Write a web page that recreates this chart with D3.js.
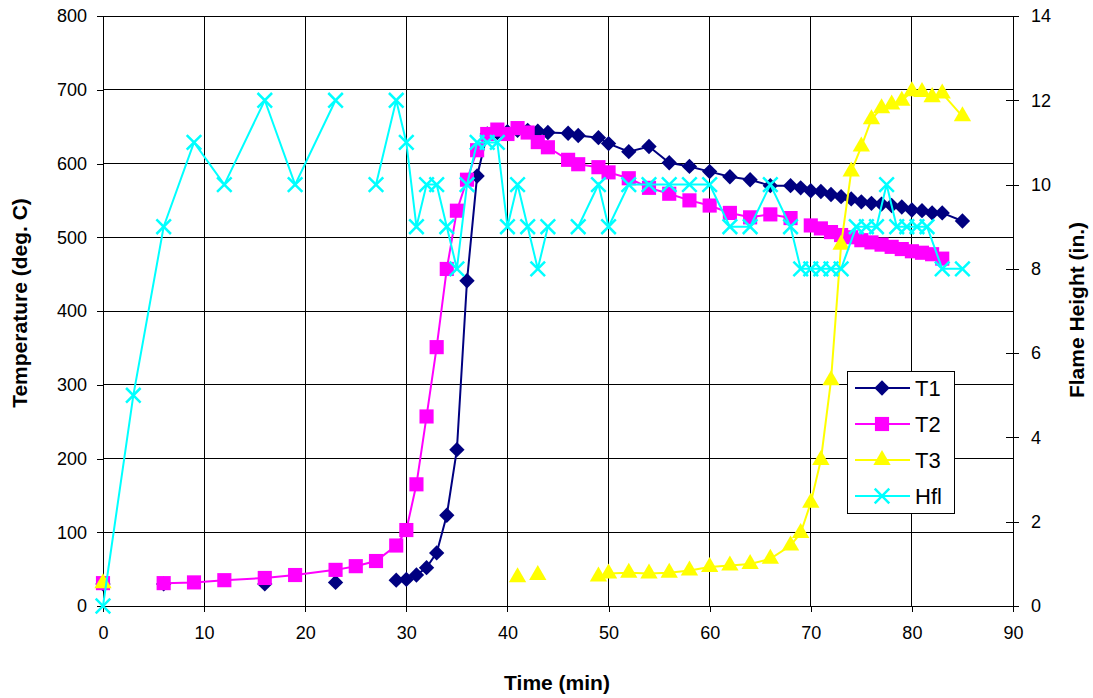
<!DOCTYPE html>
<html>
<head>
<meta charset="utf-8">
<script src="https://cdn.jsdelivr.net/npm/d3@7"></script>
<style>
  body { margin: 0; background: #fff; }
  text { font-family: "Liberation Sans", Arial, sans-serif; }
</style>
</head>
<body>
<script>
// chart size, same as the window
var width = 1093,
	height = 698;

// time points for the thermocouples (min)
var time = [0, 3, 6, 9, 12, 16, 19, 23, 25, 27, 29, 30, 31, 32, 33, 34, 35, 36, 37, 38,
	39, 40, 41, 42, 43, 44, 46, 47, 49, 50, 52, 54, 56, 58, 60, 62, 64, 66, 68, 69,
	70, 71, 72, 73, 74, 75, 76, 77, 78, 79, 80, 81, 82, 83, 85];

// temperatures (deg. C), null where nothing was logged
var t1 = [30, null, 30, null, null, 30, null, 32, null, null, 35, 36, 42, 52, 72, 123, 212, 441, 583, 640,
	642, 643, 645, 645, 644, 642, 641, 638, 635, 627, 616, 623, 601, 596, 589, 582, 578, 570, 570, 567,
	563, 562, 558, 555, 552, 548, 546, 545, 543, 541, 537, 536, 533, 533, 522];

var t2 = [31, null, 31, 32, 35, 38, 42, 49, 54, 61, 82, 103, 165, 257, 351, 457, 536, 578, 618, 640,
	646, 640, 648, 642, 629, 622, 605, 599, 595, 588, 580, 567, 559, 550, 543, 533, 527, 531, 526, null,
	516, 512, 507, 503, 500, 496, 493, 490, 487, 484, 481, 479, 477, 471, null];

var t3 = [31, null, null, null, null, null, null, null, null, null, null, null, null, null, null, null, null, null, null, null,
	null, null, 39, null, 42, null, null, null, 40, 44, 45, 44, 45, 48, 53, 55, 57, 64, 82, 99,
	140, 198, 306, 490, 589, 623, 660, 675, 680, 685, 698, 697, 690, 695, 664];

// flame height has its own time points (min) and values (in.)
var hflTime = [0, 3, 6, 9, 12, 16, 19, 23, 25, 27, 29, 30, 31, 32, 33, 34, 35, 36, 37, 38,
	39, 40, 41, 42, 43, 44, 46, 47, 49, 50, 52, 54, 56, 58, 60, 62, 64, 66, 68, 69,
	70, 71, 72, 73, 74.5, 75.5, 76.5, 77.5, 78.5, 79.5, 80.5, 81.5, 83, 85];
var hfl = [0, 5, 9, 11, 10, 12, 10, 12, null, 10, 12, 11, 9, 10, 10, 9, 8, 10, 11, 11,
	11, 9, 10, 9, 8, 9, null, 9, 10, 9, 10, 10, 10, 10, 10, 9, 9, 10, 9, 8,
	8, 8, 8, 8, 9, 9, 9, 10, 9, 9, 9, 9, 8, 8];

// axis ticks
var xTicks = [0, 10, 20, 30, 40, 50, 60, 70, 80, 90];
var leftTicks = [0, 100, 200, 300, 400, 500, 600, 700, 800];
var rightTicks = [0, 2, 4, 6, 8, 10, 12, 14];

var seriesNames = ['T1', 'T2', 'T3', 'Hfl'];
var seriesColors = ['#000080', '#ff00ff', '#ffff00', '#00ffff'];

// plot box (window.top is taken, so prefix these)
var plotLeft = 103, plotRight = 1013, plotTop = 16, plotBottom = 606;

var x = d3.scaleLinear().domain([0, 90]).range([plotLeft, plotRight]);
var yL = d3.scaleLinear().domain([0, 800]).range([plotBottom, plotTop]);
var yR = d3.scaleLinear().domain([0, 14]).range([plotBottom, plotTop]);

var svg = d3.select('body')
	.append('svg')
	.attr('width', width)
	.attr('height', height);

// grid lines
var grid = svg.append('g').attr('shape-rendering', 'crispEdges');
grid.selectAll('.gx')
	.data(xTicks)
	.enter().append('line')
	.attr('x1', function(d) { return x(d); })
	.attr('x2', function(d) { return x(d); })
	.attr('y1', plotTop)
	.attr('y2', plotBottom)
	.attr('stroke', '#000');
grid.selectAll('.gy')
	.data(leftTicks)
	.enter().append('line')
	.attr('x1', plotLeft)
	.attr('x2', plotRight)
	.attr('y1', function(d) { return yL(d); })
	.attr('y2', function(d) { return yL(d); })
	.attr('stroke', '#000');

// axes
function styleAxis(g) {
	g.attr('shape-rendering', 'crispEdges');
	g.selectAll('path').attr('stroke', '#000');
	g.selectAll('line').attr('stroke', '#000');
	g.selectAll('text')
		.attr('font-size', 18)
		.attr('fill', '#000')
		.style('font-family', '"Liberation Sans", Arial, sans-serif');
}

svg.append('g')
	.attr('transform', 'translate(0,' + plotBottom + ')')
	.call(d3.axisBottom(x).tickValues(xTicks).tickSize(6).tickSizeOuter(0).tickPadding(14))
	.call(styleAxis);

svg.append('g')
	.attr('transform', 'translate(' + plotLeft + ',0)')
	.call(d3.axisLeft(yL).tickValues(leftTicks).tickSize(6).tickSizeOuter(0).tickPadding(10))
	.call(styleAxis);

var rightAxis = svg.append('g')
	.attr('transform', 'translate(' + plotRight + ',0)')
	.call(d3.axisRight(yR).tickValues(rightTicks).tickSize(6).tickSizeOuter(0).tickPadding(12))
	.call(styleAxis);
// right axis ticks cross the axis line
rightAxis.selectAll('.tick line').attr('x1', -7);

// markers
var symbols = [
	d3.symbol().type(d3.symbolDiamond2).size(150),
	d3.symbol().type(d3.symbolSquare).size(200),
	d3.symbol().type(d3.symbolTriangle).size(130),
	d3.symbol().type(d3.symbolX).size(140)
];

function drawSeries(xs, ys, yScale, i) {
	var pts = xs.map(function(t, k) { return [t, ys[k]]; });
	var line = d3.line()
		.defined(function(d) { return d[1] != null; })
		.x(function(d) { return x(d[0]); })
		.y(function(d) { return yScale(d[1]); });

	svg.append('path')
		.datum(pts)
		.attr('d', line)
		.attr('fill', 'none')
		.attr('stroke', seriesColors[i])
		.attr('stroke-width', 2);

	var g = svg.append('g');
	g.selectAll('path')
		.data(pts.filter(function(d) { return d[1] != null; }))
		.enter().append('path')
		.attr('transform', function(d) { return 'translate(' + x(d[0]) + ',' + yScale(d[1]) + ')'; })
		.attr('d', symbols[i])
		.attr('fill', i == 3 ? 'none' : seriesColors[i])
		.attr('stroke', seriesColors[i])
		.attr('stroke-width', i == 3 ? 2.5 : 0);
}

drawSeries(time, t1, yL, 0);
drawSeries(time, t2, yL, 1);
drawSeries(time, t3, yL, 2);
drawSeries(hflTime, hfl, yR, 3);

// axis titles
svg.append('text')
	.attr('x', 557)
	.attr('y', 690)
	.attr('text-anchor', 'middle')
	.attr('font-size', 21)
	.attr('font-weight', 'bold')
	.text('Time (min)');

svg.append('text')
	.attr('transform', 'translate(27,303) rotate(-90)')
	.attr('text-anchor', 'middle')
	.attr('font-size', 21)
	.attr('font-weight', 'bold')
	.text('Temperature (deg. C)');

svg.append('text')
	.attr('transform', 'translate(1084,310) rotate(-90)')
	.attr('text-anchor', 'middle')
	.attr('font-size', 21)
	.attr('font-weight', 'bold')
	.text('Flame Height (in.)');

// legend
var legend = svg.append('g').attr('transform', 'translate(847,371)');
legend.append('rect')
	.attr('width', 107)
	.attr('height', 142)
	.attr('fill', '#fff')
	.attr('stroke', '#000')
	.attr('shape-rendering', 'crispEdges');

var items = legend.selectAll('.item')
	.data(seriesNames)
	.enter().append('g')
	.attr('transform', function(d, i) { return 'translate(0,' + (17 + i * 36) + ')'; });

items.append('line')
	.attr('x1', 8)
	.attr('x2', 63)
	.attr('stroke', function(d, i) { return seriesColors[i]; })
	.attr('stroke-width', 2);

items.append('path')
	.attr('transform', 'translate(35,0)')
	.attr('d', function(d, i) { return symbols[i](); })
	.attr('fill', function(d, i) { return i == 3 ? 'none' : seriesColors[i]; })
	.attr('stroke', function(d, i) { return seriesColors[i]; })
	.attr('stroke-width', function(d, i) { return i == 3 ? 2.5 : 0; });

items.append('text')
	.attr('x', 68)
	.attr('y', 8)
	.attr('font-size', 22)
	.text(function(d) { return d; });
</script>
</body>
</html>
